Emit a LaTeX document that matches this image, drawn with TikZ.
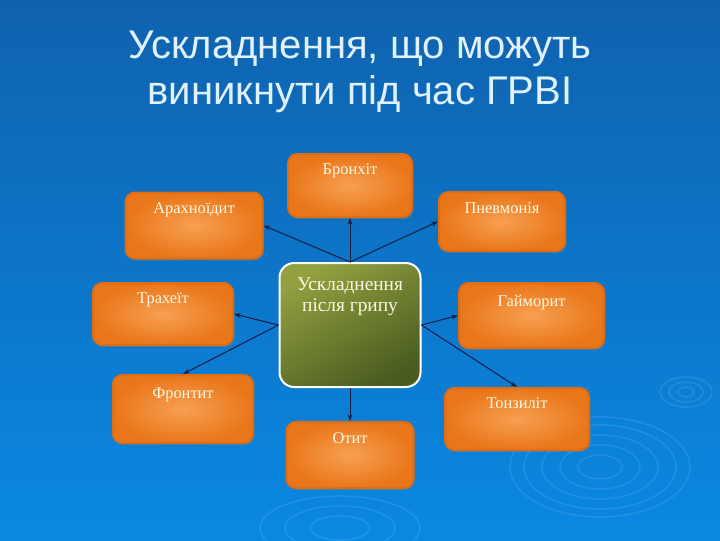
\documentclass[tikz,border=0pt]{standalone}
\usepackage{fontspec}
\setmainfont{Liberation Serif}
\newfontfamily\titlefont{Liberation Sans}
\usetikzlibrary{positioning,shadows,arrows.meta}

\definecolor{bgtop}{RGB}{15,98,174}
\definecolor{bgbottom}{RGB}{10,136,226}
\definecolor{ripple}{RGB}{95,180,245}
\definecolor{boxin}{RGB}{246,160,82}
\definecolor{boxout}{RGB}{234,118,26}
\definecolor{boxrim}{RGB}{226,108,16}
\definecolor{olivetop}{RGB}{146,160,64}
\definecolor{olivebot}{RGB}{74,92,32}
\definecolor{lbltext}{RGB}{255,248,226}
\definecolor{titletext}{RGB}{224,242,255}
\definecolor{arrowline}{RGB}{18,28,68}

\tikzset{every picture/.style={line width=0.75pt}}
\tikzset{
  illbox/.style={rounded corners=7pt, inner color=boxin, outer color=boxout,
    draw=boxrim, line width=1.5pt,
    drop shadow={shadow xshift=1.2pt, shadow yshift=-1.5pt, opacity=0.35}},
  mainbox/.style={rounded corners=11pt, top color=olivetop, bottom color=olivebot,
    shading angle=30, draw=white, line width=1.5pt},
  lbl/.style={inner sep=0pt, text=lbltext, font=\fontsize{12.3}{14}\selectfont},
  ttl/.style={inner sep=0pt, text=titletext, font=\titlefont\fontsize{30}{34}\selectfont},
  link/.style={draw=arrowline, -{Stealth[length=5pt,width=3.5pt]}},
  wave/.style={draw=ripple, line width=1.2pt, opacity=0.25}
}

\begin{document}
\begin{tikzpicture}[x=0.75pt,y=0.75pt,yscale=-1,xscale=1]
\useasboundingbox (0,0) rectangle (720,540);

%Background
\fill [top color=bgtop, bottom color=bgbottom] (0,0) rectangle (720,540);

%Ripples
\draw [wave] (600,467) ellipse (22 and 12);
\draw [wave] (600,467) ellipse (40 and 22);
\draw [wave] (600,467) ellipse (58 and 32);
\draw [wave] (600,467) ellipse (76 and 42);
\draw [wave] (600,467) ellipse (90 and 50);
\draw [wave] (686,392) ellipse (8 and 5);
\draw [wave] (686,392) ellipse (17 and 10);
\draw [wave] (686,392) ellipse (26 and 15);
\draw [wave] (340,528) ellipse (30 and 12);
\draw [wave] (340,528) ellipse (55 and 22);
\draw [wave] (340,528) ellipse (80 and 32);

% Title
\node [ttl, anchor=base] (title1) at (360,58) {Ускладнення, що можуть};
\node [ttl, anchor=base] (title2) at (360,104) {виникнути під час ГРВІ};

%Shape: Rounded Rect
\node [illbox, minimum width=93pt, minimum height=47.25pt] (bronh) at (350,185.5) {};
\node [illbox, minimum width=102.75pt, minimum height=49.5pt] (arach) at (194,225.5) {};
\node [illbox, minimum width=94.5pt, minimum height=44.25pt] (pnev) at (502,221.5) {};
\node [illbox, minimum width=105pt, minimum height=46.5pt] (trach) at (163,314) {};
\node [illbox, minimum width=108.75pt, minimum height=48.75pt] (gaim) at (531.5,315.5) {};
\node [illbox, minimum width=105pt, minimum height=51pt] (front) at (183,409) {};
\node [illbox, minimum width=108pt, minimum height=46.5pt] (tonz) at (517,419) {};
\node [illbox, minimum width=95.25pt, minimum height=49.5pt] (otyt) at (350,455) {};
%Shape: Centre Rounded Rect
\node [mainbox, minimum width=105.75pt, minimum height=93pt] (centre) at (350,325) {};

% Text Node
\node [lbl, below=7.5pt of bronh.north] (bronhtxt) {Бронхіт};
\node [lbl, below=8pt of arach.north] (arachtxt) {Арахноїдит};
\node [lbl, below=8pt of pnev.north] (pnevtxt) {Пневмонія};
\node [lbl, below=7.5pt of trach.north] (trachtxt) {Трахеїт};
\node [lbl, below=9.75pt of gaim.north] (gaimtxt) {Гайморит};
\node [lbl, below=9.75pt of front.north] (fronttxt) {Фронтит};
\node [lbl, below=7.5pt of tonz.north] (tonztxt) {Тонзиліт};
\node [lbl, below=8pt of otyt.north] (otyttxt) {Отит};
\node [lbl, below=11.25pt of centre.north, align=center,
  font=\fontsize{14.5}{15.75}\selectfont] (centretxt) {Ускладнення\\після грипу};

%Straight Lines
\draw [link] (centre.north) -- (bronh.south);
\draw [link] (centre.north) -- (arach.east);
\draw [link] (centre.north) -- (pnev.west);
\draw [link] (centre.west) -- (trach.east);
\draw [link] (centre.west) -- (front.north);
\draw [link] (centre.east) -- (gaim.west);
\draw [link] (centre.east) -- (tonz.north);
\draw [link] (centre.south) -- (otyt.north);

\end{tikzpicture}
\end{document}
